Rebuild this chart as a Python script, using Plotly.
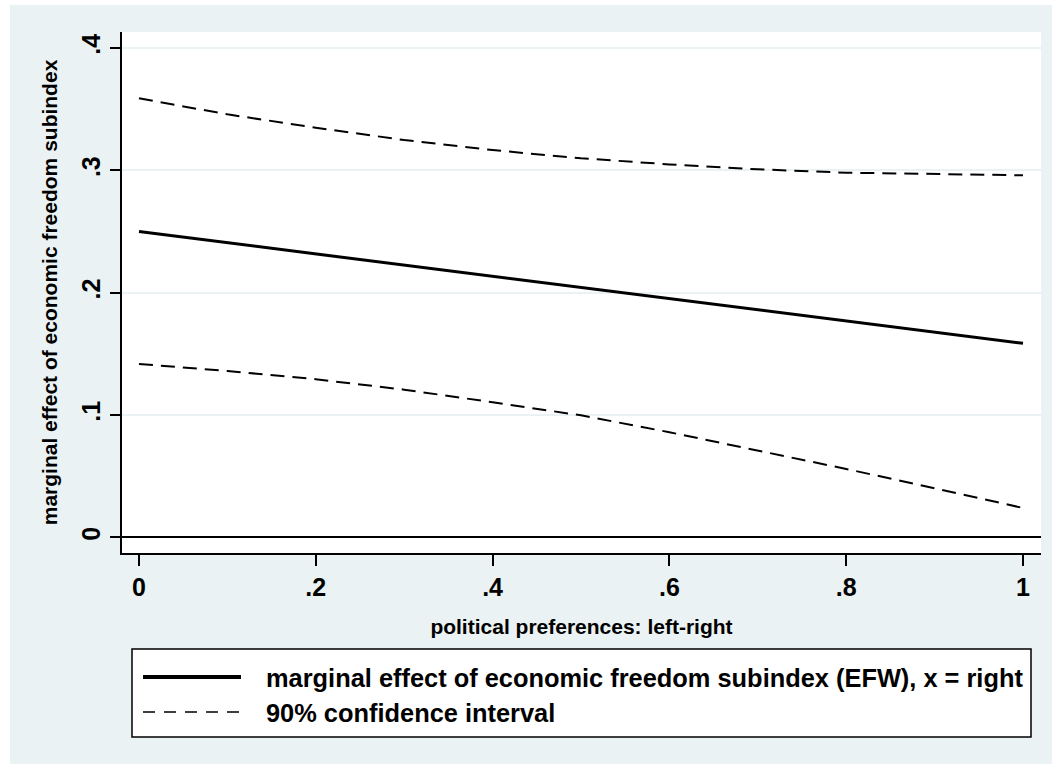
import plotly.graph_objects as go

# ---- data ----
x_vals = [0.0, 0.1, 0.2, 0.3, 0.4, 0.5, 0.6, 0.7, 0.8, 0.9, 1.0]
marginal_effect = [0.2500, 0.2409, 0.2317, 0.2226, 0.2135, 0.2043, 0.1952, 0.1861, 0.1770, 0.1678, 0.1587]
ci_upper = [0.3589, 0.3458, 0.3349, 0.3248, 0.3166, 0.3099, 0.3049, 0.3009, 0.2981, 0.2969, 0.2960]
ci_lower = [0.1418, 0.1361, 0.1293, 0.1208, 0.1105, 0.0998, 0.0860, 0.0713, 0.0560, 0.0402, 0.0241]

x_tickvals = [0, 0.2, 0.4, 0.6, 0.8, 1.0]
x_ticktext = ["0", ".2", ".4", ".6", ".8", "1"]
y_tickvals = [0, 0.1, 0.2, 0.3, 0.4]
y_ticktext = ["0", ".1", ".2", ".3", ".4"]

x_title = "political preferences: left-right"
y_title = "marginal effect of economic freedom subindex"
legend_labels = ["marginal effect of economic freedom subindex (EFW), x = right",
                 "90% confidence interval"]

# ---- styling ----
BG = "#EAF2F3"
FONT = "Liberation Sans, Arial, sans-serif"
W, H = 1052, 769
L, R, T, B = 122, 11, 32, 216
PW, PH = W - L - R, H - T - B


def px(xp):
    return (xp - L) / PW


def py(yp):
    return (H - B - yp) / PH


fig = go.Figure()
fig.add_trace(go.Scatter(x=x_vals, y=ci_upper, mode="lines", name=legend_labels[1],
                         line=dict(color="black", width=2, dash="14px,8px"), showlegend=False))
fig.add_trace(go.Scatter(x=x_vals, y=ci_lower, mode="lines", name=legend_labels[1],
                         line=dict(color="black", width=2, dash="14px,8px"), showlegend=False))
fig.add_trace(go.Scatter(x=x_vals, y=marginal_effect, mode="lines", name=legend_labels[0],
                         line=dict(color="black", width=3), showlegend=False))

shapes = [
    # white outer strips
    dict(type="rect", xref="paper", yref="paper", x0=px(0), x1=px(10), y0=py(H), y1=py(0),
         fillcolor="white", line=dict(width=0), layer="below"),
    dict(type="rect", xref="paper", yref="paper", x0=px(0), x1=px(W), y0=py(5), y1=py(0),
         fillcolor="white", line=dict(width=0), layer="below"),
    dict(type="rect", xref="paper", yref="paper", x0=px(0), x1=px(W), y0=py(H), y1=py(764),
         fillcolor="white", line=dict(width=0), layer="below"),
    # legend box
    dict(type="rect", xref="paper", yref="paper", x0=px(132), x1=px(1031), y0=py(737), y1=py(649),
         fillcolor="white", line=dict(color="black", width=1.5)),
    dict(type="line", xref="paper", yref="paper", x0=px(143), x1=px(241), y0=py(677), y1=py(677),
         line=dict(color="black", width=4)),
    dict(type="line", xref="paper", yref="paper", x0=px(143), x1=px(241), y0=py(712), y1=py(712),
         line=dict(color="black", width=1.5, dash="12px,9px")),
]

annotations = [
    dict(xref="paper", yref="paper", x=px(264), y=py(678), xanchor="left", yanchor="middle",
         text=legend_labels[0], showarrow=False, font=dict(family=FONT, size=25.4, color="black", weight="bold")),
    dict(xref="paper", yref="paper", x=px(264), y=py(713), xanchor="left", yanchor="middle",
         text=legend_labels[1], showarrow=False, font=dict(family=FONT, size=25.4, color="black", weight="bold")),
]

fig.update_layout(
    width=W, height=H,
    margin=dict(l=L, r=R, t=T, b=B),
    paper_bgcolor=BG, plot_bgcolor="white",
    showlegend=False,
    shapes=shapes, annotations=annotations,
    font=dict(family=FONT, color="black"),
)
fig.update_xaxes(
    range=[-0.0192, 1.0204], tickvals=x_tickvals, ticktext=x_ticktext,
    showgrid=False, zeroline=False,
    showline=True, linecolor="black", linewidth=1.5,
    ticks="outside", ticklen=11, tickwidth=1.5, tickcolor="black",
    tickfont=dict(family=FONT, size=25, color="black", weight="bold"),
    title=dict(text=x_title, font=dict(family=FONT, size=21, color="black", weight="bold"), standoff=20),
)
fig.update_yaxes(
    range=[-0.0127, 0.4131], tickvals=y_tickvals, ticktext=y_ticktext, tickangle=-90,
    showgrid=True, gridcolor=BG, gridwidth=2,
    zeroline=True, zerolinecolor="black", zerolinewidth=2,
    showline=True, linecolor="black", linewidth=1.5,
    ticks="outside", ticklen=10, tickwidth=1.5, tickcolor="black",
    tickfont=dict(family=FONT, size=25, color="black", weight="bold"),
    title=dict(text=y_title, font=dict(family=FONT, size=21, color="black", weight="bold"), standoff=14),
)

fig.write_html("out.html",
               config={"displayModeBar": False},
               post_script="document.body.style.margin='0';document.body.style.overflow='hidden';")
